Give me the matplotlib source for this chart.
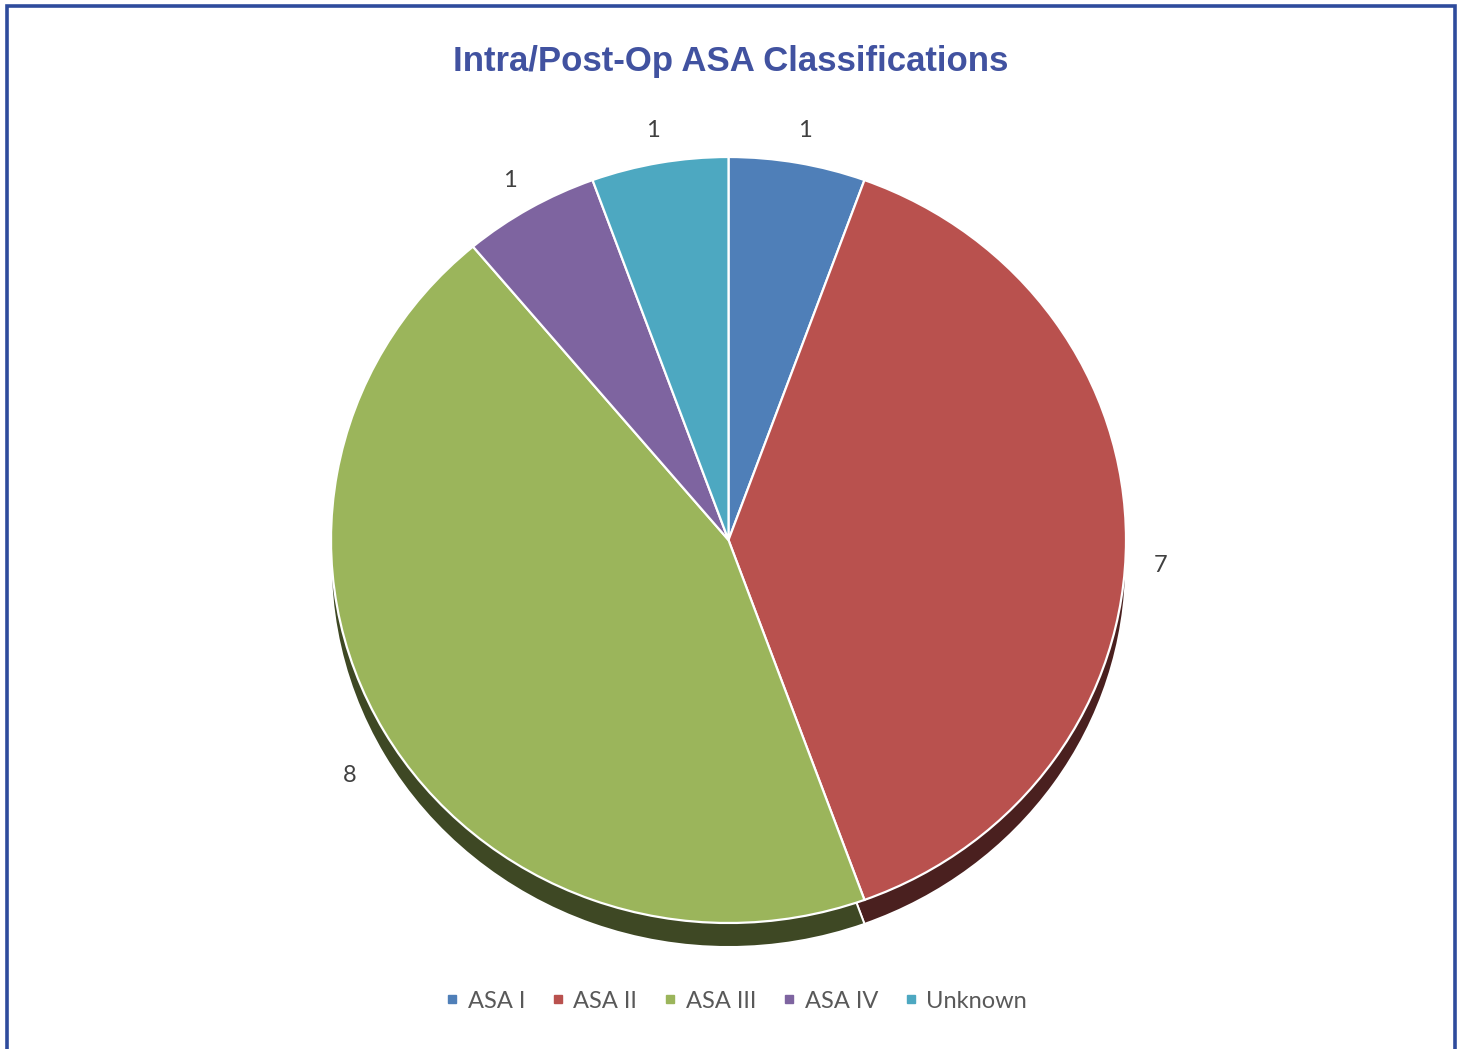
import matplotlib
matplotlib.use("Agg")
import numpy as np
import matplotlib.pyplot as plt
from matplotlib.lines import Line2D
from matplotlib.patches import Rectangle
from matplotlib.colors import to_rgb
from matplotlib import transforms

categories = ["ASA I", "ASA II", "ASA III", "ASA IV", "Unknown"]
values = [1, 7, 8, 1, 1]
colors = ["#4F7FB8", "#B9514E", "#9BB55B", "#7E64A0", "#4DA8C1"]
title = "Intra/Post-Op ASA Classifications"

W, H = 1460, 1049
fig = plt.figure(figsize=(W / 100, H / 100), dpi=100)
fig.patch.set_facecolor("white")

# border frame
fig.patches.append(Rectangle((7 / W, -0.05), (1455 - 7) / W, 1.05 - 6 / H,
                             transform=fig.transFigure, fill=False,
                             edgecolor="#2E4B9C", linewidth=2.6, zorder=10))

# geometry of top face (pixels)
x0, x1, y0, y1 = 331, 1126, 157, 923
depth = 24

def ax_at(dy):
    return fig.add_axes([x0 / W, (H - y1 - dy) / H, (x1 - x0) / W, (y1 - y0) / H])

side_colors = [tuple(c * 0.40 for c in to_rgb(col)) for col in colors]
ax_side = ax_at(depth)
ax_side.pie(values, colors=side_colors, startangle=90, counterclock=False,
            wedgeprops=dict(edgecolor="white", linewidth=1.4))
ax_side.set_aspect("auto")
ax_side.set_xlim(-1, 1)
ax_side.set_ylim(-1, 1)
ax_side.axis("off")

ax = ax_at(0)
wedges, texts = ax.pie(values, colors=colors, startangle=90, counterclock=False,
                       labels=[str(v) for v in values], labeldistance=1.1,
                       wedgeprops=dict(edgecolor="white", linewidth=1.6),
                       textprops=dict(fontsize=17, color="#404040",
                                      family=["Lato", "DejaVu Sans"]))
ax.set_aspect("auto")
ax.set_xlim(-1, 1)
ax.set_ylim(-1, 1)
ax.axis("off")
for w, t in zip(wedges, texts):
    t.set_ha("center")
    t.set_va("center")
    t.set_clip_on(False)
    mid = np.deg2rad((w.theta1 + w.theta2) / 2)
    dy = -5 - (20 if np.sin(mid) <= 0.01 else 0)
    dx = -5 if np.cos(mid) > 0.9 else 0
    t.set_transform(transforms.offset_copy(ax.transData, fig=fig, x=dx, y=dy, units="dots"))

fig.text(731 / W, 1 - 62 / H, title, ha="center", va="center",
         fontsize=25, fontweight="bold", color="#4152A0",
         family=["Liberation Sans", "DejaVu Sans"])

handles = [Line2D([], [], marker="s", linestyle="none", markersize=6,
                  markerfacecolor=c, markeredgecolor=c) for c in colors]
fig.legend(handles, categories, loc="center", bbox_to_anchor=(735 / W, 1 - 1001 / H),
           ncol=5, frameon=False, handletextpad=0.25,
           columnspacing=1.0, handlelength=0.8,
           prop=dict(family=["Lato", "DejaVu Sans"], size=17),
           labelcolor="#595959")

fig.savefig("out.png", dpi=100, facecolor="white")
